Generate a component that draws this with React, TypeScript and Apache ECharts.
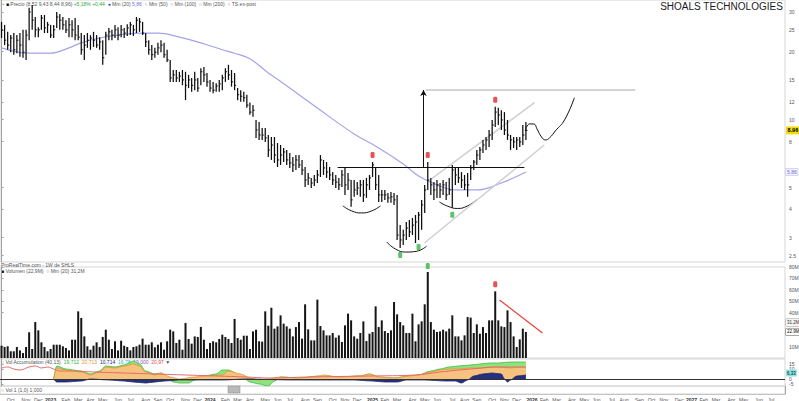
import React, { useEffect, useRef } from 'react';
import * as echarts from 'echarts';

// ---------- time frame: weekly bars ----------
const FIRST_WEEK_UTC = Date.UTC(2022, 8, 12);
const TOTAL_WEEKS = 256;
const MONTH_LABELS = ['Jan', 'Feb', 'Mar', 'Apr', 'May', 'Jun', 'Jul', 'Aug', 'Sep', 'Oct', 'Nov', 'Dec'];

// ---------- price (weekly high / low / close) ----------
const highs = [
  27.1, 26.3, 24.5, 23.7, 24.2, 23.7, 24.2, 25.0, 25.0, 31.3,
  32.2, 28.5, 25.7, 29.1, 29.1, 27.1, 26.3, 26.3, 30.0, 29.4,
  28.5, 27.6, 28.2, 27.6, 28.2, 26.3, 24.2, 23.7, 24.2, 23.7,
  24.5, 23.7, 23.2, 22.5, 24.5, 25.5, 25.0, 26.3, 25.7, 26.3,
  25.5, 26.5, 27.1, 26.3, 28.5, 28.2, 27.1, 24.2, 22.5, 21.4,
  20.8, 21.9, 22.5, 21.9, 20.4, 18.4, 16.6, 16.6, 16.3, 16.6,
  16.3, 15.8, 15.3, 16.3, 15.3, 16.9, 17.1, 16.1, 15.0, 14.7,
  14.5, 15.0, 15.8, 16.9, 17.5, 16.6, 16.1, 13.8, 13.5, 13.3,
  12.9, 11.9, 11.6, 9.97, 9.77, 9.19, 9.19, 8.55, 8.38, 8.38,
  7.88, 7.72, 7.49, 7.34, 7.12, 6.83, 6.97, 6.97, 6.63, 6.17,
  5.80, 5.52, 5.69, 5.98, 6.97, 6.63, 6.49, 6.17, 5.86, 5.69,
  5.52, 5.98, 6.11, 5.80, 5.40, 5.40, 5.29, 5.40, 5.40, 5.52,
  5.69, 6.49, 6.11, 5.69, 4.88, 4.88, 4.73, 4.78, 4.73, 4.64,
  3.41, 3.25, 3.52, 3.59, 3.67, 3.78, 3.90, 4.41, 5.14, 6.49,
  5.52, 5.29, 5.40, 5.24, 5.40, 5.29, 5.52, 6.30, 6.17, 6.11,
  5.86, 5.69, 5.80, 6.30, 6.63, 7.34, 7.57, 8.13, 8.38, 9.00,
  9.97, 11.4, 11.3, 11.0, 10.8, 9.97, 8.55, 8.38, 8.38, 8.38,
  9.47, 9.77,
];
const lows = [
  23.0, 21.4, 20.4, 19.9, 19.4, 19.7, 19.0, 18.8, 18.4, 22.5,
  25.0, 23.2, 23.2, 25.0, 24.2, 24.2, 23.0, 23.0, 25.5, 25.0,
  25.0, 24.2, 23.2, 23.2, 22.5, 22.5, 19.4, 18.4, 20.8, 20.4,
  21.0, 20.8, 20.4, 17.5, 19.4, 22.5, 22.5, 23.0, 22.5, 23.2,
  23.0, 23.5, 23.7, 23.5, 24.2, 24.5, 23.7, 21.0, 19.4, 18.4,
  18.8, 19.4, 19.9, 18.8, 18.0, 14.7, 14.7, 14.7, 14.7, 14.2,
  12.2, 13.8, 13.3, 13.5, 13.3, 14.2, 14.7, 14.0, 13.3, 13.1,
  13.3, 13.3, 13.5, 14.7, 15.0, 14.0, 13.5, 12.2, 12.0, 12.0,
  11.3, 10.5, 10.3, 8.30, 8.13, 8.13, 7.97, 6.83, 6.63, 6.43,
  6.17, 6.30, 6.49, 6.30, 6.11, 5.86, 5.98, 6.11, 5.69, 5.03,
  5.14, 4.98, 5.08, 5.24, 5.57, 5.69, 5.52, 5.40, 5.14, 4.98,
  4.88, 5.03, 4.64, 4.88, 4.11, 4.55, 4.64, 4.55, 4.32, 4.50,
  4.88, 5.57, 4.88, 4.32, 4.32, 4.41, 4.28, 4.28, 4.19, 2.93,
  2.70, 2.78, 2.93, 3.02, 3.08, 2.84, 2.93, 3.25, 3.86, 4.88,
  4.64, 4.41, 4.50, 4.50, 4.64, 4.41, 4.64, 4.07, 5.14, 5.24,
  4.98, 4.88, 4.55, 5.40, 5.98, 6.30, 6.63, 7.12, 7.34, 7.57,
  8.13, 9.28, 9.47, 9.00, 8.55, 8.13, 7.34, 7.49, 7.34, 7.57,
  7.72, 8.13,
];
const closes = [
  25.0, 22.5, 21.4, 23.0, 20.4, 22.5, 21.4, 19.9, 23.7, 30.0,
  27.6, 25.0, 25.0, 28.2, 25.5, 26.3, 23.7, 25.0, 28.5, 27.6,
  26.3, 25.0, 26.3, 25.0, 23.7, 23.2, 20.4, 21.4, 22.5, 23.0,
  22.5, 21.4, 22.1, 18.8, 23.7, 24.5, 23.7, 25.0, 23.7, 25.0,
  24.2, 25.5, 26.3, 25.0, 27.6, 27.1, 24.2, 22.1, 20.4, 19.4,
  19.9, 20.8, 21.4, 19.4, 18.4, 15.3, 15.8, 15.3, 15.6, 15.0,
  14.2, 15.0, 14.2, 15.0, 13.8, 16.3, 15.8, 14.7, 13.8, 13.5,
  14.1, 14.4, 15.3, 16.3, 15.8, 14.7, 14.2, 12.9, 12.7, 12.5,
  11.6, 10.8, 11.0, 9.00, 8.55, 8.55, 8.30, 7.34, 7.72, 6.97,
  6.63, 6.97, 7.19, 6.63, 6.43, 6.30, 6.63, 6.30, 5.98, 5.40,
  5.52, 5.24, 5.40, 5.69, 6.63, 6.11, 5.86, 5.69, 5.40, 5.29,
  5.14, 5.69, 5.14, 5.40, 4.41, 4.88, 4.98, 5.14, 4.64, 5.14,
  5.52, 6.30, 5.14, 4.64, 4.64, 4.64, 4.50, 4.55, 4.41, 3.08,
  2.93, 3.08, 3.31, 3.18, 3.41, 3.52, 3.78, 4.19, 4.88, 5.40,
  5.14, 4.88, 5.14, 4.88, 5.14, 4.64, 4.88, 5.98, 5.69, 5.52,
  5.40, 5.14, 5.14, 6.11, 6.49, 6.97, 7.34, 7.72, 8.13, 8.55,
  9.47, 10.8, 10.5, 9.97, 9.00, 8.55, 8.13, 7.97, 8.13, 7.97,
  8.55, 8.96,
];

// ---------- 40-week moving average: [week, value] ----------
const movingAverage = [
  [0, 20.8], [9, 19.7], [16, 19.7], [22, 20.8], [26, 21.9], [32, 23.0], [38, 23.7],
  [46, 24.2], [51, 24.2], [58, 23.2], [65, 21.9], [72, 20.4], [76, 19.7], [81, 18.6],
  [87, 16.1], [90, 15.1], [97, 12.9], [104, 11.0], [115, 8.64], [123, 7.49], [131, 6.36],
  [136, 5.63], [142, 5.14], [148, 4.88], [155, 4.88], [163, 5.24], [171, 5.86],
];

// ---------- volume (millions of shares) ----------
const volumes = [
  10.8, 9.7, 10.3, 5.9, 5.9, 9.7, 6.7, 4.4, 9.7, 22.6,
  7.9, 31.6, 24.3, 13.8, 9.7, 5.9, 7.9, 11.7, 11.7, 11.7,
  10.3, 8.8, 6.7, 16.1, 16.1, 41.0, 35.2, 19.0, 10.3, 7.3,
  10.8, 13.8, 9.7, 18.5, 24.9, 16.1, 7.9, 14.7, 6.7, 15.2,
  10.8, 9.7, 6.7, 9.7, 10.3, 11.7, 17.0, 11.7, 11.7, 13.8,
  9.4, 11.7, 13.8, 7.3, 14.7, 24.9, 23.4, 13.2, 16.1, 7.3,
  30.8, 16.7, 12.6, 19.0, 18.5, 27.3, 16.1, 7.9, 13.2, 14.7,
  13.8, 16.7, 20.5, 18.5, 16.7, 13.2, 34.3, 17.6, 16.1, 19.6,
  19.6, 7.9, 23.4, 24.9, 14.7, 14.4, 41.0, 28.4, 44.2, 25.8,
  27.8, 37.5, 30.2, 27.8, 25.8, 19.0, 27.2, 31.6, 17.0, 47.2,
  25.2, 15.5, 15.5, 51.3, 28.1, 24.3, 19.9, 19.9, 22.0, 17.9,
  19.9, 14.1, 28.7, 39.0, 33.1, 19.0, 17.0, 22.0, 32.2, 14.9,
  21.4, 22.9, 45.4, 27.2, 33.1, 23.7, 22.0, 24.3, 49.2, 38.4,
  31.6, 28.7, 22.0, 22.0, 39.0, 14.7, 29.6, 32.2, 47.2, 75.6,
  31.6, 24.9, 22.9, 23.4, 24.9, 23.4, 25.8, 37.5, 19.0, 19.0,
  15.5, 19.9, 36.0, 35.5, 22.0, 29.6, 21.4, 27.2, 22.0, 33.1,
  33.1, 58.6, 33.1, 27.8, 27.2, 41.9, 31.6, 19.0, 9.7, 16.4,
  25.8, 22.9,
];
const volumeAverageLast = 31.2;

// ---------- volume accumulation indicator: [week, value] ----------
const accGreen = [
  [17, 0], [18, 13], [21, 10], [26, 8], [29, 5], [32, 8], [34, 13], [37, 12], [40, 14], [43, 18],
  [45, 15], [47, 8], [50, 5], [52, 6], [54, 1], [56, -3], [58, -4], [61, -4], [63, -1], [66, 3],
  [70, 5], [72, 9], [74, 9], [77, 5], [79, 1], [81, -3], [84, -5], [87, -7], [89, -2], [91, 2],
  [97, 1], [104, 3], [110, 2], [117, 3], [120, 5], [123, 2], [128, 1], [133, 3], [136, 4], [140, 8],
  [143, 10], [146, 12], [149, 13], [153, 14], [156, 15], [159, 16], [162, 16], [166, 17], [169, 17], [171, 17],
];
const accOrange = [
  [17, 0], [18, 11], [21, 9], [26, 7], [29, 4], [32, 7], [34, 12], [37, 11], [40, 13], [43, 15],
  [45, 13], [47, 7], [50, 4], [52, 6], [55, 2], [58, 0], [63, 2], [66, 3], [72, 4], [74, 8],
  [78, 5], [81, 1], [84, -1], [87, 0], [91, 2], [97, 1], [104, 3], [105, 4], [110, 2], [117, 3],
  [120, 5], [123, 2], [128, 1], [133, 3], [136, 4], [140, 7], [143, 9], [146, 10], [149, 10], [153, 11],
  [156, 11], [159, 12], [162, 12], [166, 11], [169, 12], [171, 12],
];
const accNavy = [
  [17, 0], [18, -3], [21, -3], [26, -2], [29, 0], [35, -1], [40, -2], [43, -3], [47, -4], [50, -3],
  [53, -2], [58, -1], [65, -1], [72, -1], [80, 0], [95, -1], [100, -1], [108, -1], [115, -1], [121, -2],
  [125, -3], [129, -3], [132, -1], [138, -1], [145, -2], [148, -2], [150, -4], [152, -1], [154, 3], [157, 5],
  [160, 6], [163, 5], [164, 0], [165, -3], [166, -1], [168, 3], [171, 4],
];
const accSignal = [
  [0, 11], [2, 12], [4, 10], [6, 9], [9, 12], [11, 13], [13, 11], [15, 12], [17, 10], [19, 8],
  [22, 8], [30, 7], [40, 6], [50, 5], [60, 4], [70, 3], [80, 2], [87, 1], [100, 2], [120, 3],
  [135, 4], [143, 7], [153, 10], [163, 12], [171, 12],
];
const accLastLabel = 6;

// ---------- axis ticks ----------
const priceTicks = [30, 25, 20, 15, 12, 10, 8, 5, 4, 3, 2.5];
const volumeTicks = [80, 70, 60, 50, 40, 10];
const accTicks = [15, 10, 0, -5];

// ---------- signals (week indices) ----------
const priceTopSignals = [121, 139, 161];
const priceBottomSignals = [130, 136, 147];
const volumeBottomSignals = [139];
const volumeTopSignals = [161];

// ---------- hand-drawn analysis (week, price) ----------
const neckline = [[109.6, 6.17], [170.5, 6.17]];
const measuredMove = [[137.6, 6.17], [137.6, 13.54]];
const targetLine = [[138.3, 13.54], [206.7, 13.54]];
const channelUpper = [[140.2, 5.46], [173.8, 11.9]];
const channelLower = [[137.9, 2.84], [177.0, 7.72]];
const cupLeft = [[111.3, 4.15], [114.2, 3.94], [117.4, 3.86], [120.7, 3.94], [123.6, 4.15]];
const cupMiddle = [[125.6, 2.87], [128.5, 2.67], [131.8, 2.59], [135.3, 2.61], [138.6, 2.75]];
const cupRight = [[142.8, 4.32], [145.4, 4.14], [148.7, 4.04], [152.0, 4.15], [154.9, 4.41]];
const projectedPath = [
  [170.8, 8.91], [172.2, 9.57], [173.5, 9.57], [174.8, 9.0], [176.1, 8.38], [177.4, 8.13],
  [178.7, 8.30], [180.6, 8.91], [183.6, 9.97], [186.8, 12.5],
];
const volumeTrend = [[162.4, 51.0], [176.4, 22.0]];

const weekDates = Array.from({ length: TOTAL_WEEKS }, (_, i) => new Date(FIRST_WEEK_UTC + i * 7 * 86400000));
const weekCategories = weekDates.map((d) => d.toISOString().slice(0, 10));

const FONT = '"Liberation Sans", Arial, sans-serif';
const HIDDEN_LINE = { color: 'rgba(0,0,0,0)', width: 0 };

function buildOption(): any {
  const X_MIN = -0.5;
  const X_MAX = TOTAL_WEEKS - 0.5;
  const hiddenX = (gridIndex: number) => ({ type: 'value', gridIndex, min: X_MIN, max: X_MAX, show: false });
  const gridBase = { left: 0, right: 14, show: true, borderColor: '#d6d6d6', borderWidth: 1, containLabel: false, outerBoundsMode: 'none' };
  const lastClose = closes[closes.length - 1];
  const lastMa = movingAverage[movingAverage.length - 1][1];
  const lastVolume = volumes[volumes.length - 1];
  const seg = (pts: number[][], style: any, endSymbol?: string) => [
    { coord: pts[0], lineStyle: style, symbol: 'none' },
    { coord: pts[1], lineStyle: style, symbol: endSymbol || 'none', symbolSize: endSymbol ? [5, 6] : 0 },
  ];
  const valueTag = (value: number, text: string, extra: any) => ({
    yAxis: value, lineStyle: HIDDEN_LINE, symbol: 'none',
    label: { show: true, position: 'end', distance: 1, formatter: text, padding: [1, 1], fontFamily: FONT, ...extra },
  });
  const curve = (pts: number[][]) => ({
    type: 'line', xAxisIndex: 0, yAxisIndex: 0, data: pts, smooth: true, symbol: 'none',
    lineStyle: { color: '#111', width: 1 }, z: 4, silent: true,
  });
  const smallLabel = { fontSize: 5, color: '#555', fontFamily: FONT };

  return {
    animation: false,
    backgroundColor: '#ffffff',
    textStyle: { fontFamily: FONT },
    grid: [
      { ...gridBase, top: 0, height: 262 },
      { ...gridBase, top: 267, height: 91 },
      { ...gridBase, top: 359, height: 27 },
      { ...gridBase, top: 386, height: 8 },
    ],
    xAxis: [
      hiddenX(0),
      hiddenX(1),
      hiddenX(2),
      {
        type: 'category', gridIndex: 3, data: weekCategories, boundaryGap: true,
        axisLine: { show: true, lineStyle: { color: '#c4c4c4' } },
        axisTick: { show: false },
        splitLine: { show: false },
        axisLabel: {
          ...smallLabel,
          margin: 3,
          interval: (index: number) =>
            index > 0 && index < TOTAL_WEEKS - 2 && weekDates[index].getUTCMonth() !== weekDates[index - 1].getUTCMonth(),
          formatter: (value: string) => {
            const d = new Date(value + 'T00:00:00Z');
            const m = d.getUTCMonth();
            return m === 0 ? `{y|${d.getUTCFullYear()}}` : MONTH_LABELS[m];
          },
          rich: { y: { fontSize: 5, fontWeight: 'bold', color: '#333', fontFamily: FONT } },
        },
      },
    ],
    yAxis: [
      {
        type: 'log', gridIndex: 0, position: 'right', min: 2.34, max: 33.9,
        axisLine: { show: true, lineStyle: { color: '#a0a0a0' } },
        axisTick: { show: true, customValues: priceTicks, length: 2, inside: false, lineStyle: { color: '#a0a0a0' } },
        axisLabel: { ...smallLabel, customValues: priceTicks, margin: 4, formatter: (v: number) => String(v) },
        splitLine: { show: false },
      },
      {
        type: 'value', gridIndex: 1, position: 'right', min: 0, max: 80,
        axisLine: { show: true, lineStyle: { color: '#a0a0a0' } },
        axisTick: { show: true, customValues: volumeTicks, length: 2, lineStyle: { color: '#a0a0a0' } },
        axisLabel: { ...smallLabel, customValues: volumeTicks, margin: 4, formatter: (v: number) => `${v}M` },
        splitLine: { show: false },
      },
      {
        type: 'value', gridIndex: 2, position: 'right', min: -7, max: 20,
        axisLine: { show: true, lineStyle: { color: '#a0a0a0' } },
        axisTick: { show: true, customValues: accTicks, length: 2, lineStyle: { color: '#a0a0a0' } },
        axisLabel: { ...smallLabel, customValues: accTicks, margin: 4 },
        splitLine: { show: false },
      },
      {
        type: 'value', gridIndex: 3, position: 'right', min: 0, max: 1,
        axisLine: { show: true, lineStyle: { color: '#a0a0a0' } },
        axisTick: { show: false }, axisLabel: { show: false }, splitLine: { show: false },
      },
    ],
    series: [
      // price bars (high-low with close tick)
      {
        type: 'custom', name: 'Precio', xAxisIndex: 0, yAxisIndex: 0, z: 5, silent: true,
        data: highs.map((h, i) => [i, h, lows[i], closes[i]]),
        encode: { x: 0, y: [1, 2, 3] },
        renderItem: (_params: any, api: any) => {
          const x = api.value(0);
          const hi = api.coord([x, api.value(1)]);
          const lo = api.coord([x, api.value(2)]);
          const cl = api.coord([x, api.value(3)]);
          return {
            type: 'group',
            children: [
              { type: 'line', shape: { x1: hi[0], y1: hi[1], x2: lo[0], y2: lo[1] }, style: { stroke: '#0d0d0d', lineWidth: 1.25 } },
              { type: 'line', shape: { x1: cl[0], y1: cl[1], x2: cl[0] + 1.6, y2: cl[1] }, style: { stroke: '#0d0d0d', lineWidth: 1 } },
            ],
          };
        },
      },
      // moving average + drawn analysis lines + price labels
      {
        type: 'line', name: 'Mm', xAxisIndex: 0, yAxisIndex: 0, data: movingAverage, smooth: 0.4,
        symbol: 'none', lineStyle: { color: '#a3a3ec', width: 1.2 }, z: 3, silent: true,
        markLine: {
          silent: true, symbol: 'none', animation: false, label: { show: false },
          data: [
            seg(targetLine, { color: '#c6c6c6', width: 1.5, type: 'solid' }),
            seg(channelUpper, { color: '#d0d0d0', width: 1.5, type: 'solid' }),
            seg(channelLower, { color: '#d0d0d0', width: 1.5, type: 'solid' }),
            seg(neckline, { color: '#111', width: 1, type: 'solid' }),
            seg(measuredMove, { color: '#111', width: 1, type: 'solid' }, 'arrow'),
            valueTag(lastClose, lastClose.toFixed(2), { fontSize: 5.5, fontWeight: 'bold', color: '#000', backgroundColor: '#f3dc10', padding: [1, 1.5] }),
            valueTag(lastMa, lastMa.toFixed(2), { fontSize: 5, color: '#6d6dd8', backgroundColor: '#f2f2fd', borderColor: '#b9b9ee', borderWidth: 0.5 }),
          ],
        },
      },
      curve(cupLeft),
      curve(cupMiddle),
      curve(cupRight),
      curve(projectedPath),
      {
        type: 'scatter', xAxisIndex: 0, yAxisIndex: 0, z: 6, silent: true,
        data: priceTopSignals.map((i) => [i, highs[i]]),
        symbol: 'roundRect', symbolSize: [4, 6], symbolOffset: [0, -7], itemStyle: { color: '#e2262b' },
      },
      {
        type: 'scatter', xAxisIndex: 0, yAxisIndex: 0, z: 6, silent: true,
        data: priceBottomSignals.map((i) => [i, lows[i]]),
        symbol: 'roundRect', symbolSize: [4, 6], symbolOffset: [0, 7], itemStyle: { color: '#34b349' },
      },
      // volume
      {
        type: 'bar', name: 'Volumen', xAxisIndex: 1, yAxisIndex: 1, barWidth: 2, silent: true,
        data: volumes.map((v, i) => [i, v]),
        itemStyle: { color: '#151515' },
        markLine: {
          silent: true, symbol: 'none', animation: false, label: { show: false },
          data: [
            seg(volumeTrend, { color: '#e8403a', width: 1.2, type: 'solid' }),
            valueTag(volumeAverageLast, `${volumeAverageLast}M`, { fontSize: 4.5, color: '#333', backgroundColor: '#f4f4f4', borderColor: '#999', borderWidth: 0.5 }),
            valueTag(lastVolume, `${lastVolume}M`, { fontSize: 4.5, color: '#000', backgroundColor: '#ffffff', borderColor: '#555', borderWidth: 0.5 }),
          ],
        },
      },
      {
        type: 'scatter', xAxisIndex: 1, yAxisIndex: 1, z: 6, silent: true,
        data: volumeBottomSignals.map((i) => [i, volumes[i]]),
        symbol: 'roundRect', symbolSize: [4, 6], symbolOffset: [0, -6], itemStyle: { color: '#34b349' },
      },
      {
        type: 'scatter', xAxisIndex: 1, yAxisIndex: 1, z: 6, silent: true,
        data: volumeTopSignals.map((i) => [i, volumes[i]]),
        symbol: 'roundRect', symbolSize: [4, 6], symbolOffset: [0, -7], itemStyle: { color: '#e2262b' },
      },
      // volume accumulation
      {
        type: 'line', xAxisIndex: 2, yAxisIndex: 2, data: accGreen, smooth: 0.3, smoothMonotone: 'x', symbol: 'none', silent: true,
        lineStyle: { color: '#3dbb3d', width: 0.8 }, areaStyle: { color: '#8fe37f', opacity: 1 }, z: 2,
      },
      {
        type: 'line', xAxisIndex: 2, yAxisIndex: 2, data: accOrange, smooth: 0.3, smoothMonotone: 'x', symbol: 'none', silent: true,
        lineStyle: { color: '#e39431', width: 0.8 }, areaStyle: { color: '#f6c27f', opacity: 1 }, z: 3,
      },
      {
        type: 'line', xAxisIndex: 2, yAxisIndex: 2, data: accNavy, smooth: 0.3, smoothMonotone: 'x', symbol: 'none', silent: true,
        lineStyle: { color: '#1c236e', width: 0.8 }, areaStyle: { color: '#26307f', opacity: 1 }, z: 4,
      },
      {
        type: 'line', xAxisIndex: 2, yAxisIndex: 2, data: accSignal, smooth: 0.4, symbol: 'none', silent: true,
        lineStyle: { color: '#e66a6a', width: 1 }, z: 5,
        markLine: {
          silent: true, symbol: 'none', animation: false,
          data: [
            { yAxis: 0, lineStyle: { color: '#333', width: 1, type: 'solid' }, label: { show: false } },
            valueTag(accLastLabel, '6,33', { fontSize: 4.5, color: '#000', backgroundColor: '#8fe6e6' }),
          ],
        },
      },
    ],
    graphic: [
      {
        type: 'text', right: 16, top: 1, silent: true,
        style: { text: 'SHOALS TECHNOLOGIES', font: `10px ${FONT}`, fill: '#1b1b1b' },
      },
      {
        type: 'text', left: 1, top: 1, silent: true,
        style: {
          text: '{i|▪}{i2|▪} {k|■} Precio (8,52 9,43 8,44 8,96) {gr|+5,18% +0,44}  {b|●} Mm (20) {bl|5,86}  ○ Mm (50)  ○ Mm (100)  ○ Mm (200)  ○ TS ex-post',
          font: `5px ${FONT}`, fill: '#555',
          rich: {
            i: { fill: '#9bc79b', fontSize: 5 }, i2: { fill: '#c9a0a0', fontSize: 5 },
            k: { fill: '#111', fontSize: 5 }, gr: { fill: '#2aa640', fontSize: 5 },
            b: { fill: '#3d3de0', fontSize: 5 }, bl: { fill: '#6d6dd8', fontSize: 5 },
          },
        },
      },
      {
        type: 'text', left: 1, top: 262, silent: true,
        style: { text: 'ProRealTime.com - 1W de SHLS', font: `5px ${FONT}`, fill: '#555' },
      },
      {
        type: 'text', left: 1, top: 268, silent: true,
        style: { text: '{k|■} Volumen (22,9M)  ○ Mm (20) 31,2M', font: `5px ${FONT}`, fill: '#555', rich: { k: { fill: '#111', fontSize: 5 } } },
      },
      {
        type: 'text', left: 1, top: 359, silent: true,
        style: {
          text: '○ Vol Accumulation (40,13)  {g|19,712}  {o|20,713}  {n|10,714}  {c|16,78}  {p|19,000}  {r|20,97} ▼',
          font: `5px ${FONT}`, fill: '#555',
          rich: {
            g: { fill: '#2fb02f', fontSize: 5 }, o: { fill: '#e39431', fontSize: 5 }, n: { fill: '#1c236e', fontSize: 5 },
            c: { fill: '#1fb5b5', fontSize: 5 }, p: { fill: '#8a4fc0', fontSize: 5 }, r: { fill: '#e04a4a', fontSize: 5 },
          },
        },
      },
      {
        type: 'text', left: 1, top: 387, silent: true,
        style: { text: '○ Vol 1 (1,0) 1,000', font: `5px ${FONT}`, fill: '#555' },
      },
      {
        type: 'rect', silent: true,
        shape: { x: 228, y: 386, width: 12, height: 7 },
        style: { fill: '#b9b9b9', stroke: '#8a8a8a', lineWidth: 0.5 },
      },
    ],
  };
}

export default function App() {
  const ref = useRef<HTMLDivElement>(null);
  useEffect(() => {
    document.body.style.margin = '0';
    const chart = echarts.init(ref.current as HTMLDivElement, undefined, { renderer: 'svg', width: 799, height: 401 });
    chart.setOption(buildOption());
    return () => chart.dispose();
  }, []);
  return <div ref={ref} style={{ width: 799, height: 401, background: '#fff' }} />;
}
